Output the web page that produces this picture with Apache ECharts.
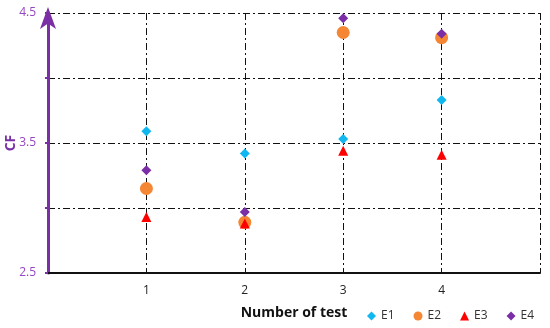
<!DOCTYPE html>
<html><head><meta charset="utf-8">
<script src="https://cdn.jsdelivr.net/npm/echarts@6/dist/echarts.min.js"></script>
<style>html,body{margin:0;padding:0;background:#fff}#c{width:550px;height:328px}</style>
</head><body><div id="c"></div>
<script>
const tests = [1, 2, 3, 4];
const E1 = [3.59, 3.42, 3.53, 3.83];
const E2 = [3.15, 2.89, 4.35, 4.31];
const E3 = [2.93, 2.88, 3.44, 3.41];
const E4 = [3.29, 2.97, 4.46, 4.34];
const yTickLabels = ['2.5', '3.5', '4.5'];
const seriesNames = ['E1', 'E2', 'E3', 'E4'];

const font = '"Open Sans", "Liberation Sans", sans-serif';
const dashDot = [7, 3, 2, 3];
const purple = '#7B2FA5';
const chart = echarts.init(document.getElementById('c'));
const pts = arr => tests.map((t, i) => [t, arr[i]]);
chart.setOption({
  animation: false,
  grid: {left: 48, right: 10, top: 13, bottom: 55, containLabel: false, outerBoundsMode: 'none'},
  legend: {
    data: [
      {name: 'E1', icon: 'diamond'},
      {name: 'E2', icon: 'circle'},
      {name: 'E3', icon: 'triangle'},
      {name: 'E4', icon: 'diamond'}
    ],
    left: 362, top: 305, itemWidth: 9, itemHeight: 9, itemGap: 19,
    textStyle: {fontFamily: font, fontSize: 12, color: '#333'}
  },
  xAxis: {
    type: 'value', min: 0, max: 5, interval: 1,
    name: 'Number of test', nameLocation: 'middle', nameGap: 33, nameMoveOverlap: false,
    nameTextStyle: {fontFamily: font, fontSize: 14, fontWeight: 'bold', color: '#111'},
    axisLine: {show: true, lineStyle: {color: '#111', width: 2}},
    axisTick: {show: false},
    axisLabel: {
      fontFamily: font, fontSize: 12, color: '#222', margin: 12,
      formatter: v => tests.indexOf(v) >= 0 ? String(v) : ''
    },
    splitLine: {show: true, lineStyle: {color: '#111', width: 1, type: dashDot}}
  },
  yAxis: {
    type: 'value', min: 2.5, max: 4.5, interval: 0.5,
    name: 'CF', nameLocation: 'middle', nameGap: 30, nameMoveOverlap: false,
    nameTextStyle: {fontFamily: font, fontSize: 14, fontWeight: 'bold', color: purple},
    axisLine: {show: true, symbol: ['none', 'arrow'], symbolSize: [12, 22], symbolOffset: [0, 6],
      lineStyle: {color: purple, width: 3}},
    axisTick: {show: true, length: 3, lineStyle: {color: purple, width: 2}},
    axisLabel: {
      fontFamily: font, fontSize: 12, color: '#9546C0', margin: 12,
      formatter: v => { const s = v.toFixed(1); return yTickLabels.indexOf(s) >= 0 ? s : ''; }
    },
    splitLine: {show: true, lineStyle: {color: '#111', width: 1, type: dashDot}}
  },
  series: [
    {name: 'E1', type: 'scatter', symbol: 'diamond', symbolSize: 10, itemStyle: {color: '#11B8F0', opacity: 1}, data: pts(E1), z: 3},
    {name: 'E2', type: 'scatter', symbol: 'circle', symbolSize: 13, itemStyle: {color: '#F58634', opacity: 1}, data: pts(E2), z: 2},
    {name: 'E3', type: 'scatter', symbol: 'triangle', symbolSize: 10, itemStyle: {color: '#FF0000', opacity: 1}, data: pts(E3), z: 4},
    {name: 'E4', type: 'scatter', symbol: 'diamond', symbolSize: 10, itemStyle: {color: '#7A2FA6', opacity: 1}, data: pts(E4), z: 5}
  ]
});
</script></body></html>
